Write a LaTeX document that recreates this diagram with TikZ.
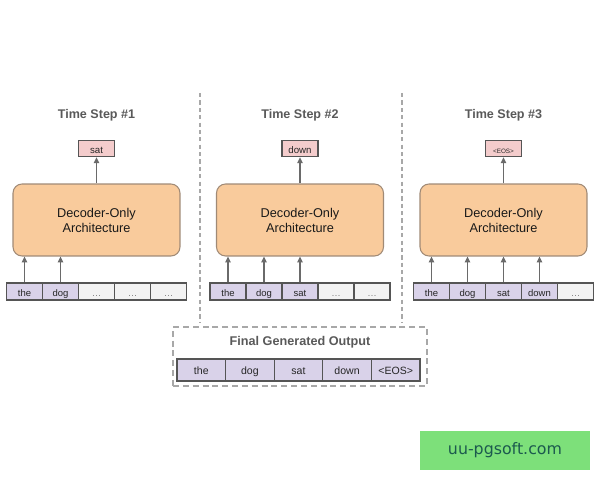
\documentclass[tikz,border=0pt]{standalone}
\usepackage{fontspec}
\setmainfont{Liberation Sans}
\newfontfamily\wmfont{DejaVu Sans}
\usetikzlibrary{arrows.meta}
\definecolor{tokfill}{HTML}{D9D2E9}
\definecolor{emptyfill}{HTML}{F3F3F3}
\definecolor{tokline}{HTML}{555555}
\definecolor{archfill}{HTML}{F9CB9C}
\definecolor{archline}{HTML}{A08A76}
\definecolor{outfill}{HTML}{F4CCCC}
\definecolor{arrcol}{HTML}{6A6A6A}
\definecolor{titlecol}{HTML}{595959}
\definecolor{dashcol}{HTML}{A8A8A8}
\definecolor{wmfill}{HTML}{7DE07A}
\definecolor{wmtext}{HTML}{1C5A4E}
\tikzset{
  tok/.style={draw=tokline, line width=0.75pt, fill=tokfill, minimum width=0.72cm, minimum height=0.34cm, inner sep=0pt, text height=0.72em, text depth=0.2em, font=\fontsize{5.4}{6}\selectfont, text=black!85},
  emptytok/.style={tok, fill=emptyfill, text=black!50},
  ftok/.style={tok, minimum width=0.972cm, minimum height=0.44cm, font=\fontsize{6}{7}\selectfont},
  arch/.style={draw=archline, line width=0.6pt, fill=archfill, rounded corners=0.18cm, minimum width=3.34cm, minimum height=1.44cm, inner sep=0pt, align=center, font=\fontsize{7.25}{8.5}\selectfont, text=black!90},
  outtok/.style={draw=tokline, line width=0.75pt, fill=outfill, minimum width=0.72cm, minimum height=0.32cm, inner sep=0pt, text height=0.72em, text depth=0.2em, font=\fontsize{5.5}{6}\selectfont, text=black!85},
  steptitle/.style={font=\bfseries\fontsize{7.15}{8}\selectfont, text=titlecol},
  arr/.style={draw=arrcol, line width=0.65pt, -{Triangle[length=3.4pt,width=3.2pt]}},
  sep/.style={draw=dashcol, line width=0.6pt, dash pattern=on 2.4pt off 1.8pt},
}
\begin{document}
\begin{tikzpicture}[x=0.02cm,y=-0.02cm]
\useasboundingbox (0,0) rectangle (600,480);
% separators
\coordinate (s1a) at (200,93); \coordinate (s1b) at (200,322);
\coordinate (s2a) at (402,93); \coordinate (s2b) at (402,322);
\draw[sep] (s1a) -- (s1b);
\draw[sep] (s2a) -- (s2b);
% panel 1
\node[steptitle] (title1) at (96.5,115) {Time Step \#1};
\node[outtok] (out1) at (96.5,148.5) {sat};
\node[arch] (arch1) at (96.5,220) {Decoder-Only\\Architecture};
\node[tok] (a1) at (24.5,291.5) {the};
\node[tok] (a2) at (60.5,291.5) {dog};
\node[emptytok] (a3) at (96.5,291.5) {\dots};
\node[emptytok] (a4) at (132.5,291.5) {\dots};
\node[emptytok] (a5) at (168.5,291.5) {\dots};
\draw[arr] (a1.north) -- (a1.north |- arch1.south);
\draw[arr] (a2.north) -- (a2.north |- arch1.south);
\draw[arr] (arch1.north) -- (out1.south);
% panel 2
\node[steptitle] (title2) at (300,115) {Time Step \#2};
\node[outtok] (out2) at (300,148.5) {down};
\node[arch] (arch2) at (300,220) {Decoder-Only\\Architecture};
\node[tok] (b1) at (228,291.5) {the};
\node[tok] (b2) at (264,291.5) {dog};
\node[tok] (b3) at (300,291.5) {sat};
\node[emptytok] (b4) at (336,291.5) {\dots};
\node[emptytok] (b5) at (372,291.5) {\dots};
\draw[arr] (b1.north) -- (b1.north |- arch2.south);
\draw[arr] (b2.north) -- (b2.north |- arch2.south);
\draw[arr] (b3.north) -- (b3.north |- arch2.south);
\draw[arr] (arch2.north) -- (out2.south);
% panel 3
\node[steptitle] (title3) at (503.5,115) {Time Step \#3};
\node[outtok, font=\fontsize{3.6}{4}\selectfont] (out3) at (503.5,148.5) {<EOS>};
\node[arch] (arch3) at (503.5,220) {Decoder-Only\\Architecture};
\node[tok] (c1) at (431.5,291.5) {the};
\node[tok] (c2) at (467.5,291.5) {dog};
\node[tok] (c3) at (503.5,291.5) {sat};
\node[tok] (c4) at (539.5,291.5) {down};
\node[emptytok] (c5) at (575.5,291.5) {\dots};
\draw[arr] (c1.north) -- (c1.north |- arch3.south);
\draw[arr] (c2.north) -- (c2.north |- arch3.south);
\draw[arr] (c3.north) -- (c3.north |- arch3.south);
\draw[arr] (c4.north) -- (c4.north |- arch3.south);
\draw[arr] (arch3.north) -- (out3.south);
% final output
\node[draw=dashcol, line width=0.7pt, dash pattern=on 3.4pt off 2.2pt, minimum width=5.08cm, minimum height=1.18cm, inner sep=0pt] (final) at (300,356.5) {};
\node[steptitle, font=\bfseries\fontsize{7.2}{8}\selectfont] (ftitle) at (300,342) {Final Generated Output};
\node[ftok] (f1) at (201.3,370) {the};
\node[ftok] (f2) at (249.9,370) {dog};
\node[ftok] (f3) at (298.5,370) {sat};
\node[ftok] (f4) at (347.1,370) {down};
\node[ftok] (f5) at (395.7,370) {<EOS>};
% watermark
\node[fill=wmfill, minimum width=3.4cm, minimum height=0.78cm, inner sep=0pt, text=wmtext, font=\wmfont\fontsize{9}{10}\selectfont] (wm) at (505,450.5) {uu-pgsoft.com};
\end{tikzpicture}
\end{document}
